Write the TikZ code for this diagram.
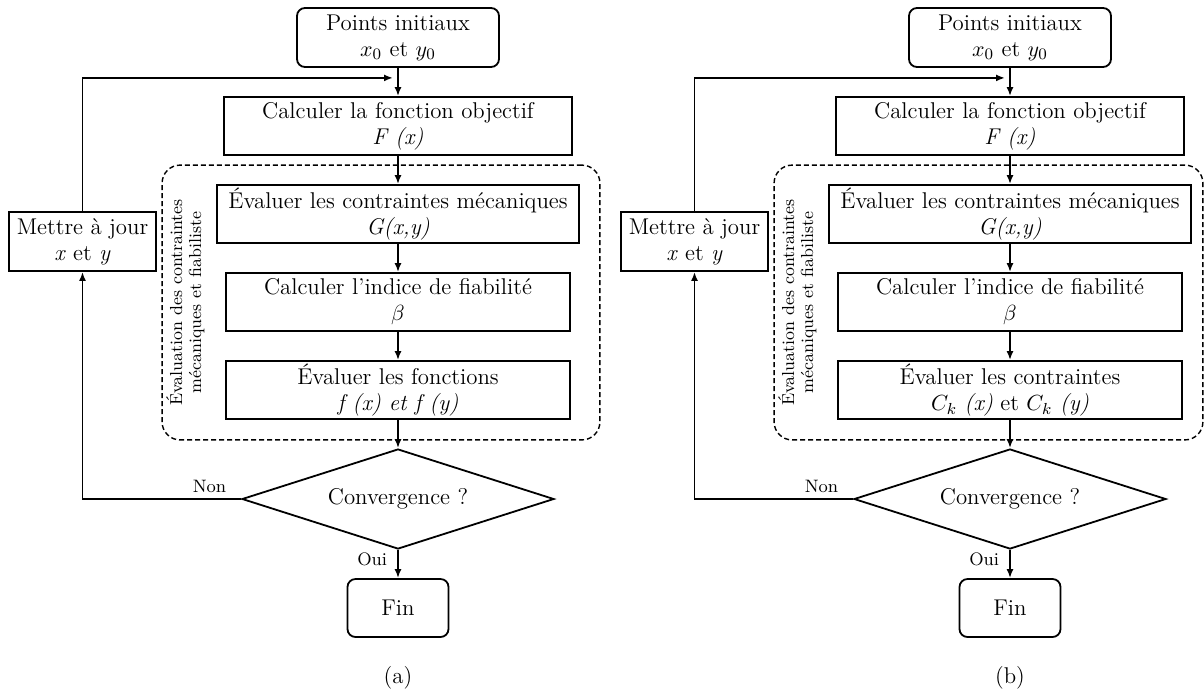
\documentclass[tikz,border=0pt]{standalone}
\usepackage{amsmath,amssymb}
\usepackage{tikz}
\usetikzlibrary{arrows.meta,positioning,calc,fit,shapes.geometric}

\begin{document}
\begin{tikzpicture}[>={Latex[length=4.5pt,width=3.5pt]},node distance=14.1pt,line width=0.9pt,every node/.style={font=\fontsize{11.4}{13}\selectfont},box/.style={draw,align=center,minimum height=29pt,inner xsep=2pt,inner ysep=0pt},rbox/.style={box,rounded corners=4pt},dec/.style={draw,diamond,aspect=3.12,minimum width=156pt,minimum height=50pt,inner sep=0pt},grp/.style={draw,dash pattern=on 2.5pt off 1.5pt,line width=0.7pt,rounded corners=9pt,inner sep=0pt},lbl/.style={font=\fontsize{9}{10}\selectfont,inner sep=1pt},vlbl/.style={rotate=90,align=center,font=\fontsize{8.7}{9.6}\selectfont,inner sep=0pt}]
\useasboundingbox (0,0) rectangle (602pt,-346.5pt);
% (a)
\node[rbox,minimum width=101pt,minimum height=29.5pt] (A1) at (199pt,-18.75pt) {Points initiaux\\$x_0$ et $y_0$};
\node[box,minimum width=174pt,below=of A1] (A2) {Calculer la fonction objectif\\\textit{F (x)}};
\node[box,minimum width=181pt,below=of A2] (A3) {Évaluer les contraintes mécaniques\\\textit{G(x,y)}};
\node[box,minimum width=172pt,below=of A3] (A4) {Calculer l’indice de fiabilité\\$\beta$};
\node[box,minimum width=172pt,below=of A4] (A5) {Évaluer les fonctions\\\textit{f (x) et f (y)}};
\node[dec,below=of A5] (A6) {Convergence ?};
\node[rbox,minimum width=50.5pt,below=of A6] (A7) {Fin};
\node[box,minimum width=73.5pt,minimum height=29.5pt] (A8) at (41.25pt,-120.75pt) {Mettre à jour\\\textit{x} et \textit{y}};
\node (A9) at (199pt,-339pt) {(a)};
\coordinate (A0) at ($(A1.south)+(0,-5pt)$);
\coordinate (AG1) at ($(A3.north west)+(-27pt,9.5pt)$);
\coordinate (AG2) at ($(A5.south east)+(14.5pt,-10pt)$);
\node[grp,fit=(AG1)(AG2)] (AG) {};
\node[vlbl] (AL) at ($(AG.west)+(12pt,0)$) {Évaluation des contraintes\\mécaniques et fiabiliste};
\node[lbl,above left=1.5pt and 6pt of A6.west] (AN) {Non};
\node[lbl,below left=0pt and 4pt of A6.south] (AO) {Oui};
\draw[->](A1)--(A2);\draw[->](A2)--(A3);\draw[->](A3)--(A4);\draw[->](A4)--(A5);\draw[->](A5)--(A6);\draw[->](A6)--(A7);
\draw[->](A6.west)-|(A8);\draw[->](A8)|-([xshift=-2.5pt]A0);
% (b)
\begin{scope}[xshift=306pt]
\node[rbox,minimum width=101pt,minimum height=29.5pt] (B1) at (199pt,-18.75pt) {Points initiaux\\$x_0$ et $y_0$};
\node[box,minimum width=174pt,below=of B1] (B2) {Calculer la fonction objectif\\\textit{F (x)}};
\node[box,minimum width=181pt,below=of B2] (B3) {Évaluer les contraintes mécaniques\\\textit{G(x,y)}};
\node[box,minimum width=172pt,below=of B3] (B4) {Calculer l’indice de fiabilité\\$\beta$};
\node[box,minimum width=172pt,below=of B4] (B5) {Évaluer les contraintes\\$C_k$ \textit{(x)} et $C_k$ \textit{(y)}};
\node[dec,below=of B5] (B6) {Convergence ?};
\node[rbox,minimum width=50.5pt,below=of B6] (B7) {Fin};
\node[box,minimum width=73.5pt,minimum height=29.5pt] (B8) at (41.25pt,-120.75pt) {Mettre à jour\\\textit{x} et \textit{y}};
\node (B9) at (199pt,-339pt) {(b)};
\coordinate (B0) at ($(B1.south)+(0,-5pt)$);
\coordinate (BG1) at ($(B3.north west)+(-27pt,9.5pt)$);
\coordinate (BG2) at ($(B5.south east)+(10pt,-10pt)$);
\node[grp,fit=(BG1)(BG2)] (BG) {};
\node[vlbl] (BL) at ($(BG.west)+(12pt,0)$) {Évaluation des contraintes\\mécaniques et fiabiliste};
\node[lbl,above left=1.5pt and 6pt of B6.west] (BN) {Non};
\node[lbl,below left=0pt and 4pt of B6.south] (BO) {Oui};
\draw[->](B1)--(B2);\draw[->](B2)--(B3);\draw[->](B3)--(B4);\draw[->](B4)--(B5);\draw[->](B5)--(B6);\draw[->](B6)--(B7);
\draw[->](B6.west)-|(B8);\draw[->](B8)|-([xshift=-2.5pt]B0);
\end{scope}
\end{tikzpicture}
\end{document}
